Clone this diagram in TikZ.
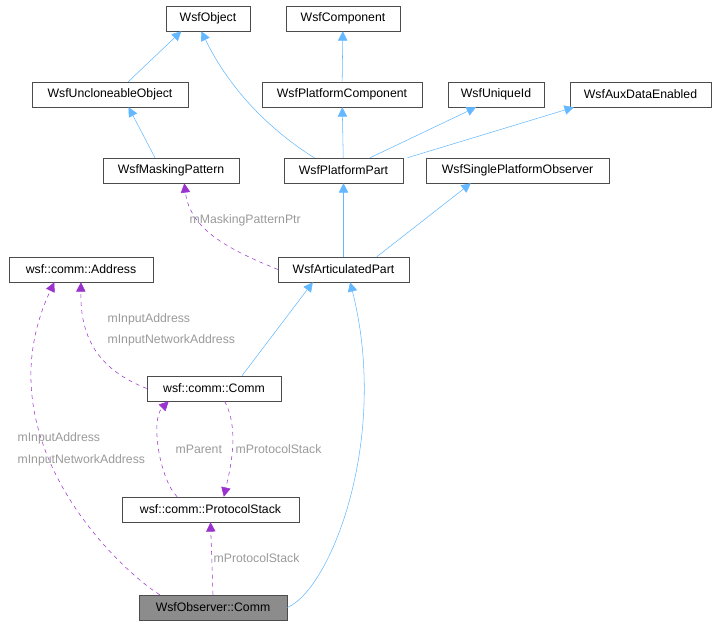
\documentclass[tikz,border=0pt]{standalone}
\usepackage{fontspec}
\setmainfont{Liberation Sans}
\usetikzlibrary{arrows.meta}
\definecolor{inh}{HTML}{63B8FF}
\definecolor{use}{HTML}{9A32CD}
\definecolor{lbl}{HTML}{9A9A9A}
\begin{document}
\begin{tikzpicture}[x=0.75pt,y=-0.75pt,
  box/.style={draw=black!70,fill=white,minimum height=18.75pt,inner sep=0pt,font=\fontsize{9.2}{11}\selectfont},
  inh/.style={draw=inh,-{Triangle[open,fill=inh,length=7pt,width=7pt]}},
  use/.style={draw=use,dashed,-{Triangle[fill=use,length=7pt,width=7pt]}},
  lb/.style={text=lbl,font=\fontsize{9.2}{11}\selectfont,inner sep=1pt}]
\useasboundingbox (0,0) rectangle (718,627);
\node[box,minimum width=63pt] (obj) at (208,18.5) {WsfObject};
\node[box,minimum width=85.5pt] (comp) at (343,18.5) {WsfComponent};
\node[box,minimum width=117pt] (unc) at (110,94.5) {WsfUncloneableObject};
\node[box,minimum width=120pt] (pcomp) at (342,94.5) {WsfPlatformComponent};
\node[box,minimum width=72pt] (uid) at (496,94.5) {WsfUniqueId};
\node[box,minimum width=106pt] (aux) at (640.5,94.5) {WsfAuxDataEnabled};
\node[box,minimum width=102pt] (mask) at (171,170.5) {WsfMaskingPattern};
\node[box,minimum width=89pt] (ppart) at (343.5,170.5) {WsfPlatformPart};
\node[box,minimum width=137pt] (spo) at (517.5,170.5) {WsfSinglePlatformObserver};
\node[box,minimum width=108pt] (addr) at (81,269.5) {wsf::comm::Address};
\node[box,minimum width=98pt] (art) at (343.5,269.5) {WsfArticulatedPart};
\node[box,minimum width=100.5pt] (comm) at (214,388.5) {wsf::comm::Comm};
\node[box,minimum width=133pt] (ps) at (210.5,509.5) {wsf::comm::ProtocolStack};
\node[box,minimum width=111pt,fill=black!45] (oc) at (213,607.5) {WsfObserver::Comm};

\draw[inh] (unc.north east)++(-60,0) -- ([xshift=-20]obj.south);
\draw[inh] ([xshift=-22]ppart.north) .. controls (270,130) and (230,90) .. ([xshift=-5]obj.south);
\draw[inh] (pcomp) -- (comp);
\draw[inh] (ppart) -- (pcomp);
\draw[inh] ([xshift=20]ppart.north) -- ([xshift=-15]uid.south);
\draw[inh] ([xshift=48]ppart.north) -- ([xshift=-50]aux.south);
\draw[inh] ([xshift=-12]mask.north) -- ([xshift=14]unc.south);
\draw[inh] (art) -- (ppart);
\draw[inh] ([xshift=25]art.north) -- ([xshift=-35]spo.south);
\draw[inh] ([xshift=21]comm.north) -- ([xshift=-23]art.south);
\draw[inh] (oc.east) .. controls (330,590) and (390,440) .. ([xshift=5]art.south);

\draw[use] (art.west) .. controls (230,250) and (190,230) .. ([xshift=10]mask.south);
\node[lb,anchor=west] (l1) at (188,220) {mMaskingPatternPtr};
\draw[use] (comm.west) .. controls (100,370) and (80,340) .. (addr.south);
\node[lb,anchor=west] (l2) at (106,319) {mInputAddress};
\node[lb,anchor=west] (l3) at (106,340) {mInputNetworkAddress};
\draw[use] ([xshift=-25]ps.north) .. controls (160,480) and (150,420) .. ([xshift=-34]comm.south);
\node[lb,anchor=west] (l4) at (174,449) {mParent};
\draw[use] ([xshift=8]comm.south) .. controls (240,430) and (230,470) .. ([xshift=10]ps.north);
\node[lb,anchor=west] (l5) at (234,449) {mProtocolStack};
\draw[use] (oc.north) -- ([xshift=0]ps.south);
\node[lb,anchor=west] (l6) at (212,558) {mProtocolStack};
\draw[use] ([xshift=-40]oc.north) .. controls (120,570) and (-20,440) .. ([xshift=-20]addr.south);
\node[lb,anchor=west] (l7) at (16,438) {mInputAddress};
\node[lb,anchor=west] (l8) at (16,460) {mInputNetworkAddress};
\end{tikzpicture}
\end{document}
